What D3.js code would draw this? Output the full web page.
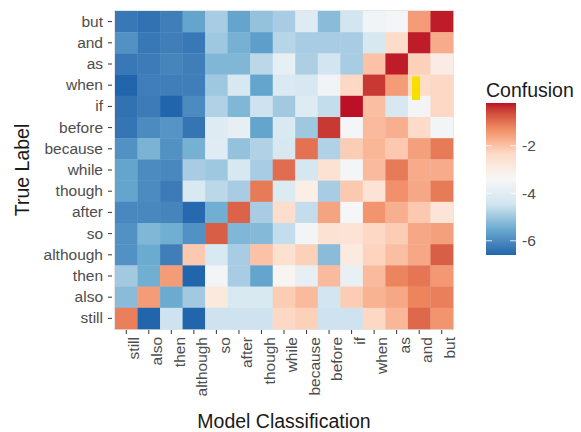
<!DOCTYPE html>
<html>
<head>
<meta charset="utf-8">
<script src="https://cdn.jsdelivr.net/npm/d3@7"></script>
<style>
  body { margin: 0; background: #fff; }
  text { font-family: "Liberation Sans", Arial, sans-serif; }
</style>
</head>
<body>
<svg id="chart"></svg>
<script>
// Labels (bottom-left to top-right diagonal)
const predicted = ["still", "also", "then", "although", "so", "after", "though", "while",
                   "because", "before", "if", "when", "as", "and", "but"];
const trueLabels = ["but", "and", "as", "when", "if", "before", "because", "while",
                    "though", "after", "so", "although", "then", "also", "still"];

// One array per true label, values in the predicted order above
const but      = [-6.3, -6.4, -6.2, -5.6, -4.9, -5.6, -5.1, -4.9, -4.1, -5.2, -4.4, -3.6, -3.5, -1.5, -0.25];
const and      = [-5.9, -6.3, -6.2, -6.3, -5.0, -5.4, -5.7, -4.75, -4.9, -4.9, -4.9, -4.3, -2.4, -0.25, -1.7];
const as       = [-6.3, -6.25, -6.1, -6.2, -5.3, -5.3, -4.7, -3.9, -4.85, -4.45, -4.9, -2.0, -0.25, -2.2, -3.0];
const when     = [-6.6, -6.2, -6.2, -6.2, -5.0, -4.3, -5.6, -4.2, -4.3, -3.6, -2.3, -0.45, -1.5, -2.4, -2.3];
const ifRow    = [-6.4, -6.25, -6.6, -6.0, -4.8, -5.3, -4.5, -4.95, -4.1, -4.6, -0.2, -1.95, -4.3, -3.55, -2.3];
const before   = [-6.35, -6.0, -5.85, -6.35, -4.1, -3.85, -5.6, -4.25, -5.0, -0.45, -3.5, -1.9, -1.75, -2.35, -3.55];
const because  = [-5.9, -5.35, -5.9, -5.4, -4.05, -5.1, -4.8, -4.3, -1.0, -4.8, -2.15, -1.85, -2.1, -1.55, -1.1];
const whileRow = [-5.6, -6.0, -6.05, -4.9, -5.0, -4.3, -4.9, -0.95, -4.35, -2.6, -3.5, -1.9, -1.1, -1.7, -1.7];
const though   = [-5.6, -6.0, -6.25, -4.25, -4.7, -4.9, -1.1, -4.15, -3.05, -4.9, -2.1, -2.65, -1.35, -1.65, -1.1];
const after    = [-6.05, -6.05, -6.1, -6.55, -5.45, -0.85, -4.9, -2.45, -4.6, -1.6, -3.45, -1.4, -1.75, -2.1, -2.7];
const so       = [-5.9, -5.3, -5.45, -5.9, -0.8, -5.3, -5.25, -4.6, -3.55, -2.6, -2.65, -2.3, -2.15, -1.65, -1.55];
const although = [-5.9, -5.5, -6.2, -2.1, -4.25, -4.9, -2.0, -2.55, -2.2, -5.2, -2.9, -2.25, -1.95, -1.65, -0.8];
const then     = [-4.95, -5.45, -1.5, -6.6, -3.55, -4.9, -5.6, -3.3, -3.85, -1.9, -3.8, -1.9, -1.2, -1.05, -1.45];
const also     = [-5.2, -1.5, -5.5, -4.95, -2.85, -4.25, -4.25, -2.15, -1.9, -4.45, -2.15, -1.8, -1.65, -1.2, -1.15];
const still    = [-1.15, -6.6, -4.5, -6.6, -4.5, -4.5, -4.5, -2.3, -2.2, -4.5, -4.5, -2.3, -1.85, -0.9, -1.4];

const rows = [but, and, as, when, ifRow, before, because, whileRow, though, after, so,
              although, then, also, still];

const legendTicks = [-2, -4, -6];
const valueRange = [-6.6, -0.2];

// Build cell list from the arrays
const cells = [];
rows.forEach((vals, r) => {
    vals.forEach((v, c) => cells.push({ t: trueLabels[r], p: predicted[c], v: v }));
});

const width = 581;
const height = 432;
const svg = d3.select("#chart")
    .attr("width", width)
    .attr("height", height);

const panel = { left: 115, right: 453, top: 11, bottom: 329 };

const x = d3.scaleBand().domain(predicted).range([panel.left, panel.right]);
const y = d3.scaleBand().domain(trueLabels).range([panel.top, panel.bottom]);

// RdBu (7 class) distiller, blue = low
const rdbu = ["#2166AC", "#67A9CF", "#D1E5F0", "#F7F7F7", "#FDDBC7", "#EF8A62", "#BB1026"];
const stops = d3.range(rdbu.length).map(i => valueRange[0] + i * (valueRange[1] - valueRange[0]) / (rdbu.length - 1));
const color = d3.scaleLinear()
    .domain(stops)
    .range(rdbu)
    .interpolate(d3.interpolateLab)
    .clamp(true);

// Panel backdrop
svg.append("rect")
    .attr("x", panel.left - 1)
    .attr("y", panel.top - 1)
    .attr("width", panel.right - panel.left + 2)
    .attr("height", panel.bottom - panel.top + 2)
    .attr("fill", "#e6e6e6");

// Tiles
svg.append("g")
    .selectAll("rect")
    .data(cells)
    .enter()
    .append("rect")
    .attr("x", d => x(d.p))
    .attr("y", d => y(d.t))
    .attr("width", x.bandwidth() + 0.3)
    .attr("height", y.bandwidth() + 0.3)
    .attr("fill", d => color(d.v));

// Yellow highlight mark
svg.append("rect")
    .attr("x", x("and") + x.bandwidth() * 0.18)
    .attr("y", y("when") + y.bandwidth() * 0.08)
    .attr("width", x.bandwidth() * 0.36)
    .attr("height", y.bandwidth() * 1.12)
    .attr("fill", "#f7e000");

// Y axis
const yAxis = svg.append("g")
    .attr("transform", `translate(${panel.left},0)`)
    .call(d3.axisLeft(y).tickSize(4).tickPadding(5));
yAxis.select(".domain").remove();
yAxis.selectAll(".tick line").attr("stroke", "#333").attr("transform", "translate(-3,0)");
yAxis.selectAll(".tick text")
    .attr("fill", "#4d4d4d")
    .style("font-size", "15.5px")
    .attr("x", -12);

// X axis, vertical labels
const xAxis = svg.append("g")
    .attr("transform", `translate(0,${panel.bottom})`)
    .call(d3.axisBottom(x).tickSize(4));
xAxis.select(".domain").remove();
xAxis.selectAll(".tick line").attr("stroke", "#333").attr("transform", "translate(0,1)");
xAxis.selectAll(".tick text")
    .attr("fill", "#4d4d4d")
    .style("font-size", "15.5px")
    .attr("text-anchor", "end")
    .attr("transform", "rotate(-90)")
    .attr("x", -8)
    .attr("y", 0)
    .attr("dy", "0.85em");

// Axis titles
svg.append("text")
    .attr("x", (panel.left + panel.right) / 2)
    .attr("y", 428)
    .attr("text-anchor", "middle")
    .style("font-size", "19.5px")
    .attr("fill", "#1a1a1a")
    .text("Model Classification");

svg.append("text")
    .attr("transform", `translate(29,${(panel.top + panel.bottom) / 2}) rotate(-90)`)
    .attr("text-anchor", "middle")
    .style("font-size", "19.5px")
    .attr("fill", "#1a1a1a")
    .text("True Label");

// Legend
const legend = { x: 486, top: 103, bottom: 255, w: 30 };
const ly = d3.scaleLinear().domain(valueRange).range([legend.bottom, legend.top]);

const grad = svg.append("defs").append("linearGradient")
    .attr("id", "legend-grad")
    .attr("x1", 0).attr("y1", 1).attr("x2", 0).attr("y2", 0);
d3.range(0, 1.0001, 0.02).forEach(t => {
    grad.append("stop")
        .attr("offset", t)
        .attr("stop-color", color(valueRange[0] + t * (valueRange[1] - valueRange[0])));
});

svg.append("text")
    .attr("x", legend.x)
    .attr("y", 97)
    .style("font-size", "19.5px")
    .attr("fill", "#1a1a1a")
    .text("Confusion");

svg.append("rect")
    .attr("x", legend.x)
    .attr("y", legend.top)
    .attr("width", legend.w)
    .attr("height", legend.bottom - legend.top)
    .attr("fill", "url(#legend-grad)");

const lt = svg.append("g").selectAll("g")
    .data(legendTicks)
    .enter()
    .append("g")
    .attr("transform", d => `translate(0,${ly(d)})`);
lt.append("line")
    .attr("x1", legend.x).attr("x2", legend.x + 6)
    .attr("stroke", "#fff").attr("stroke-opacity", 0.8);
lt.append("line")
    .attr("x1", legend.x + legend.w - 6).attr("x2", legend.x + legend.w)
    .attr("stroke", "#fff").attr("stroke-opacity", 0.8);
lt.append("text")
    .attr("x", legend.x + legend.w + 6)
    .attr("dy", "0.36em")
    .style("font-size", "15.5px")
    .attr("fill", "#4d4d4d")
    .text(d => d);
</script>
</body>
</html>
